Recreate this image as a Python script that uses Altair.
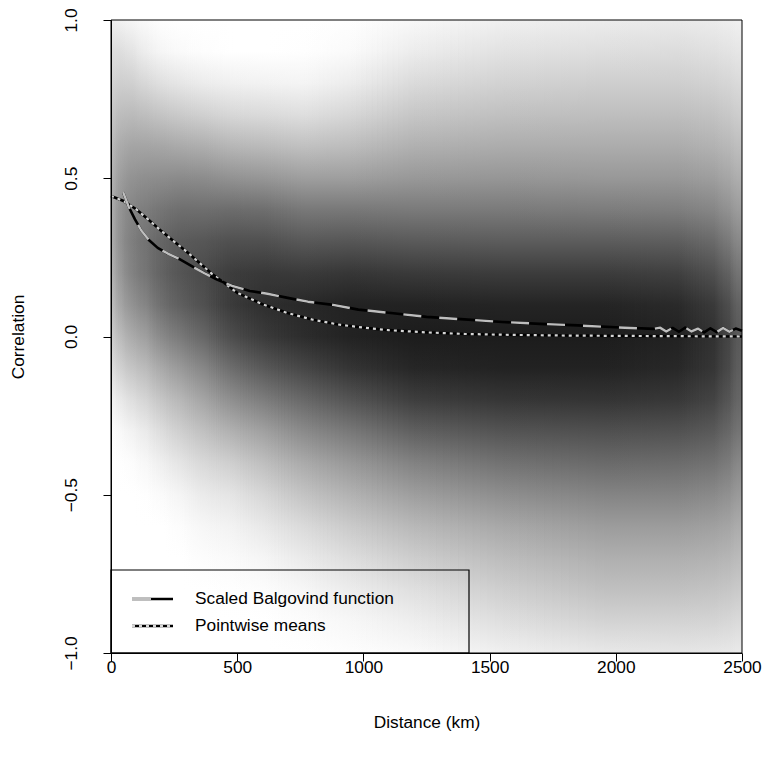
import altair as alt
import pandas as pd

# ---------------- data ----------------
x_ticks = [0, 500, 1000, 1500, 2000, 2500]
y_ticks = [-1.0, -0.5, 0.0, 0.5, 1.0]

# Scaled Balgovind function (distance km, correlation)
bal_dist = [48, 70, 95, 120, 150, 185, 225, 270, 320, 370, 420, 480, 550, 620, 700,
            780, 880, 980, 1100, 1250, 1400, 1550, 1700, 1850, 2000, 2150,
            2175, 2200, 2225, 2250, 2275, 2300, 2325, 2350, 2375, 2400, 2425, 2450, 2475, 2500]
bal_corr = [0.456, 0.41, 0.37, 0.335, 0.305, 0.28, 0.262, 0.245, 0.222, 0.2, 0.18, 0.16, 0.144, 0.135, 0.122,
            0.11, 0.1, 0.085, 0.075, 0.062, 0.054, 0.046, 0.04, 0.035, 0.029, 0.024,
            0.028, 0.016, 0.027, 0.015, 0.028, 0.016, 0.025, 0.013, 0.026, 0.014, 0.027, 0.015, 0.025, 0.018]

# Pointwise means
pm_dist = [0, 50, 100, 150, 200, 250, 300, 350, 400, 450, 500, 600, 700, 800, 900, 1000,
           1100, 1250, 1400, 1600, 1800, 2000, 2250, 2500]
pm_corr = [0.444, 0.428, 0.402, 0.368, 0.333, 0.300, 0.268, 0.233, 0.198, 0.168, 0.138, 0.102,
           0.074, 0.053, 0.038, 0.028, 0.02, 0.013, 0.008, 0.005, 0.003, 0.002, 0.001, 0.0]

legend_labels = ["Scaled Balgovind function", "Pointwise means"]

# Background density image: gray level (0 black .. 255 white) read at these distances,
# sampled at the correlation levels below
dens_centers = [10, 40, 85, 140, 205, 280, 370, 480, 610, 765, 950, 1200, 1550, 1950,
                2250, 2390, 2450, 2485]
dens_levels = [1.0, 0.9, 0.8, 0.7, 0.6, 0.5, 0.4, 0.3, 0.2, 0.1, 0.0,
               -0.1, -0.2, -0.3, -0.4, -0.5, -0.6, -0.7, -0.8, -0.9, -1.0]
gray_c00 = [240, 222, 210, 196, 184, 174, 168, 168, 174, 186, 202, 220, 240, 252, 255, 255, 255, 255, 255, 255, 255]
gray_c01 = [242, 222, 206, 188, 170, 156, 146, 144, 150, 164, 186, 208, 232, 248, 254, 255, 255, 255, 255, 255, 255]
gray_c02 = [246, 228, 208, 186, 164, 146, 132, 126, 130, 146, 170, 196, 222, 242, 252, 255, 255, 255, 255, 255, 255]
gray_c03 = [250, 238, 216, 190, 164, 142, 124, 114, 116, 132, 158, 186, 212, 234, 247, 254, 255, 255, 255, 255, 255]
gray_c04 = [254, 246, 224, 196, 166, 140, 116, 100, 98, 110, 136, 168, 196, 220, 238, 250, 255, 255, 255, 255, 255]
gray_c05 = [255, 250, 230, 202, 170, 138, 110, 90, 84, 94, 120, 152, 182, 206, 228, 244, 252, 255, 255, 255, 255]
gray_c06 = [255, 253, 236, 208, 174, 140, 110, 86, 74, 80, 102, 134, 164, 192, 216, 234, 246, 252, 255, 255, 255]
gray_c07 = [255, 255, 240, 215, 182, 146, 108, 80, 60, 58, 76, 108, 142, 176, 206, 228, 242, 250, 254, 255, 255]
gray_c08 = [255, 255, 242, 218, 186, 150, 110, 80, 56, 46, 58, 88, 124, 160, 190, 214, 232, 245, 252, 255, 255]
gray_c09 = [255, 254, 244, 222, 192, 158, 120, 88, 58, 40, 44, 70, 104, 138, 170, 195, 218, 234, 246, 252, 255]
gray_c10 = [254, 250, 236, 214, 188, 158, 120, 86, 54, 34, 34, 52, 84, 120, 152, 178, 202, 221, 236, 247, 253]
gray_c11 = [248, 236, 218, 198, 176, 152, 122, 90, 58, 34, 28, 38, 62, 96, 130, 158, 184, 205, 223, 238, 250]
gray_c12 = [240, 226, 210, 192, 172, 150, 122, 92, 60, 36, 28, 34, 54, 84, 114, 142, 168, 188, 206, 223, 240]
gray_c13 = [236, 222, 206, 190, 172, 152, 124, 92, 60, 36, 28, 34, 52, 80, 106, 132, 156, 175, 192, 211, 232]
gray_c14 = [234, 220, 206, 190, 172, 152, 126, 94, 64, 42, 34, 40, 56, 82, 108, 132, 156, 175, 192, 211, 230]
gray_c15 = [236, 224, 210, 194, 178, 158, 134, 106, 80, 58, 50, 54, 68, 90, 114, 138, 160, 178, 195, 212, 231]
gray_c16 = [238, 227, 214, 200, 184, 166, 146, 122, 98, 78, 70, 74, 86, 104, 124, 145, 165, 182, 198, 215, 232]
gray_c17 = [240, 230, 218, 205, 190, 174, 156, 136, 116, 98, 90, 94, 102, 116, 136, 154, 172, 187, 202, 218, 234]
density_gray = [gray_c00, gray_c01, gray_c02, gray_c03, gray_c04, gray_c05, gray_c06, gray_c07, gray_c08,
                gray_c09, gray_c10, gray_c11, gray_c12, gray_c13, gray_c14, gray_c15, gray_c16, gray_c17]

# ---------------- chart ----------------
FONT = "Liberation Sans"
FS = 17.3
W, H = 631, 633
XMIN, XMAX = 0, 2500
SUB = 12  # opacity sub-strips used to blend one sampled column into the next

xscale = alt.Scale(domain=[XMIN, XMAX], nice=False, zero=False)
yscale = alt.Scale(domain=[-1, 1], nice=False, zero=False)
xaxis = alt.Axis(values=x_ticks, format="d", tickSize=8, labelPadding=6, labelBaseline="middle",
                 labelFlush=False, labelOverlap=False, grid=False, zindex=1,
                 titleX=W / 2, titleY=69, titleBaseline="middle")
yaxis = alt.Axis(values=y_ticks, format=".1f", tickSize=8, labelPadding=32, labelAngle=-90,
                 labelAlign="center", labelBaseline="middle", labelFlush=False, labelOverlap=False,
                 grid=False, zindex=1, titleX=-93, titleY=H / 2, titleAngle=-90,
                 titleAlign="center", titleBaseline="middle")
XT = "Distance (km)"
YT = "Correlation"


def gradient(grays):
    stops = [alt.GradientStop(color=f"rgb({g},{g},{g})", offset=(1 - lv) / 2)
             for lv, g in zip(dens_levels, grays)]
    return alt.LinearGradient(gradient="linear", stops=stops, x1=0, x2=0, y1=0, y2=1)


def strip_layer(df, grays, blended):
    enc = dict(
        x=alt.X("d0:Q", scale=xscale, axis=xaxis, title=XT),
        x2="d1:Q",
        y=alt.Y(datum=1.0, scale=yscale, axis=yaxis, title=YT),
        y2=alt.Y2(datum=-1.0),
    )
    if blended:
        enc["opacity"] = alt.Opacity("t:Q", scale=None, legend=None)
    return alt.Chart(df).mark_rect(color=gradient(grays), strokeWidth=0).encode(**enc)


layers = []
n = len(dens_centers)
# opaque base: each sampled profile from its own centre to the next one
for i in range(n):
    left = XMIN if i == 0 else dens_centers[i]
    right = XMAX if i == n - 1 else dens_centers[i + 1] + 4
    layers.append(strip_layer(pd.DataFrame({"d0": [left], "d1": [right]}), density_gray[i], False))
# fade the next profile in across each interval
for i in range(n - 1):
    a, b = dens_centers[i], dens_centers[i + 1]
    step = (b - a) / SUB
    df = pd.DataFrame({
        "d0": [a + k * step for k in range(SUB)],
        "d1": [a + (k + 1) * step + 2 for k in range(SUB)],
        "t": [(k + 0.5) / SUB for k in range(SUB)],
    })
    layers.append(strip_layer(df, density_gray[i + 1], True))

bal_df = pd.DataFrame({"d": bal_dist, "r": bal_corr})
pm_df = pd.DataFrame({"d": pm_dist, "r": pm_corr})


def line(df, color, width, dash=None):
    kw = dict(color=color, strokeWidth=width, strokeCap="butt", strokeJoin="round")
    if dash is not None:
        kw["strokeDash"] = dash
    return alt.Chart(df).mark_line(**kw).encode(
        x=alt.X("d:Q", scale=xscale, axis=xaxis, title=XT),
        y=alt.Y("r:Q", scale=yscale, axis=yaxis, title=YT),
        order="d:Q",
    )


layers += [
    line(pm_df, "black", 2.6),
    line(pm_df, "#d6d6d6", 2.2, [3, 4]),
    line(bal_df, "black", 2.6),
    line(bal_df, "#bebebe", 2.4, [18, 18]),
]

one = pd.DataFrame({"k": [0]})
# plot frame
layers.append(
    alt.Chart(one).mark_rect(filled=False, stroke="black", strokeWidth=1).encode(
        x=alt.value(0), x2=alt.value(W), y=alt.value(0), y2=alt.value(H))
)
# legend box
layers.append(
    alt.Chart(one).mark_rect(filled=False, stroke="black", strokeWidth=1.2).encode(
        x=alt.value(0), x2=alt.value(358), y=alt.value(550), y2=alt.value(H))
)
# legend samples
layers.append(alt.Chart(one).mark_rule(color="black", strokeWidth=2.6).encode(
    x=alt.value(21), x2=alt.value(62), y=alt.value(579)))
layers.append(alt.Chart(one).mark_rule(color="#bebebe", strokeWidth=2.6).encode(
    x=alt.value(21), x2=alt.value(40), y=alt.value(579)))
layers.append(alt.Chart(one).mark_rule(color="black", strokeWidth=2.6).encode(
    x=alt.value(21), x2=alt.value(62), y=alt.value(606)))
layers.append(alt.Chart(one).mark_rule(color="#d6d6d6", strokeWidth=2.2, strokeDash=[3, 4],
                                       strokeCap="butt").encode(
    x=alt.value(21), x2=alt.value(62), y=alt.value(606)))
for lab, yy in zip(legend_labels, [579, 606]):
    layers.append(
        alt.Chart(pd.DataFrame({"label": [lab]})).mark_text(
            align="left", baseline="middle", font=FONT, fontSize=FS, color="black").encode(
            x=alt.value(84), y=alt.value(yy), text="label:N")
    )

chart = alt.layer(*layers).properties(
    width=W, height=H, autosize="none", background="white",
    padding={"left": 111, "top": 20, "right": 23, "bottom": 109},
).configure_view(strokeWidth=0).configure_axis(
    domainColor="black", domainWidth=1, tickColor="black", tickWidth=1,
    labelColor="black", titleColor="black", labelFont=FONT, titleFont=FONT,
    labelFontSize=FS, titleFontSize=FS, titleFontWeight="normal",
)

chart.save("out.html", embed_options={"renderer": "svg", "actions": False})
